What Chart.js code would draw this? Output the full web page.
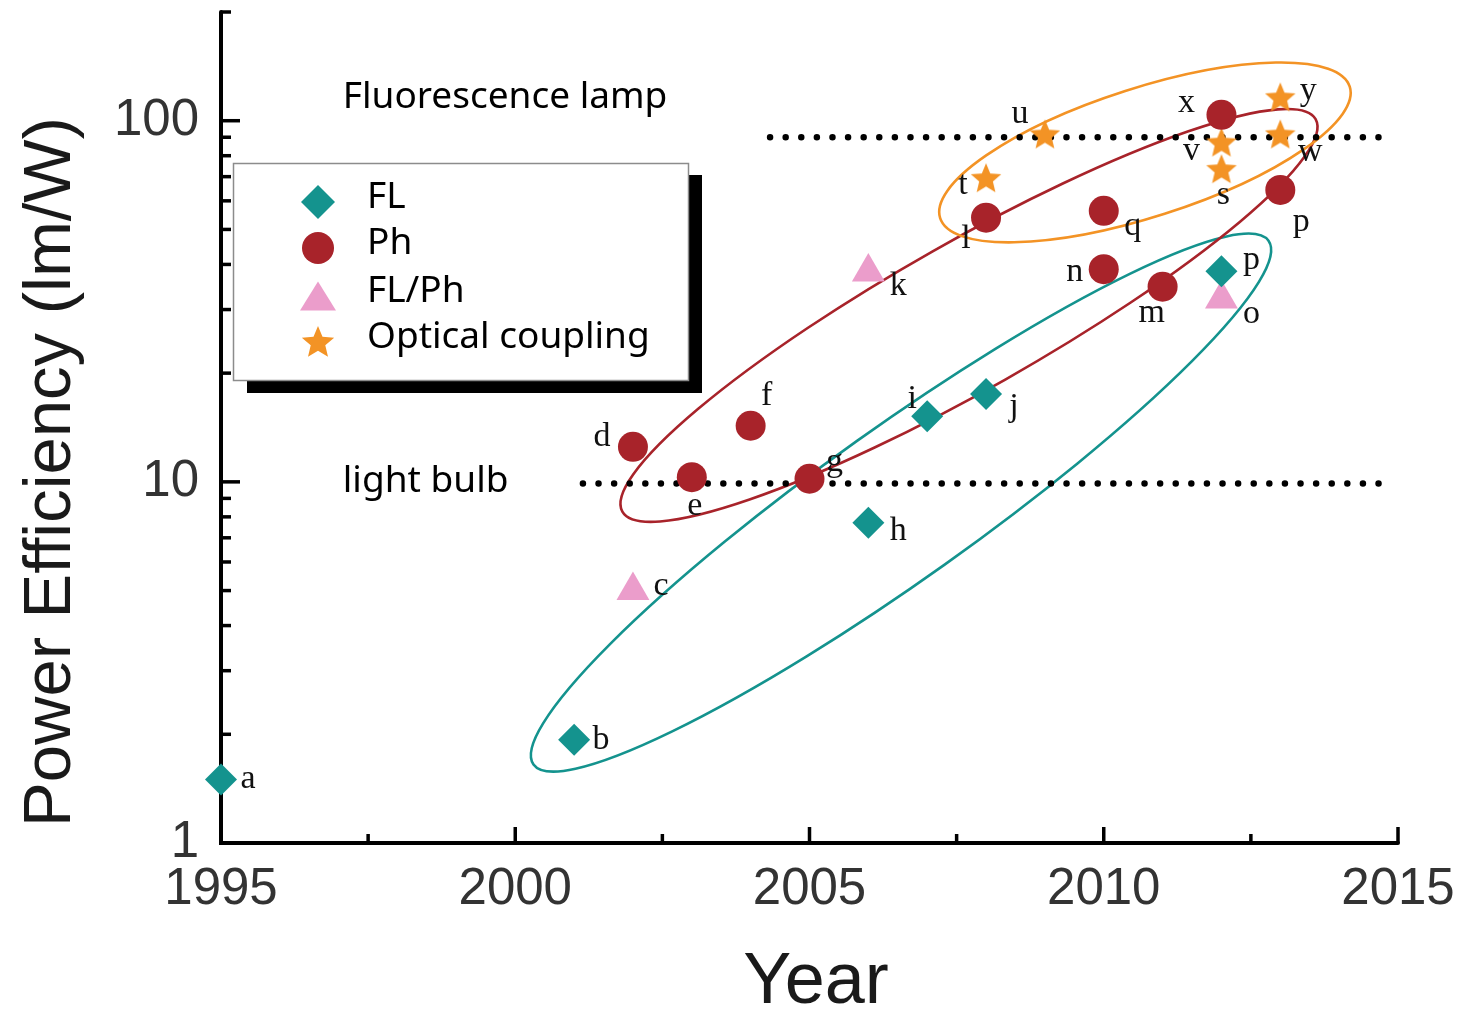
<!DOCTYPE html>
<html>
<head>
<meta charset="utf-8">
<title>Power efficiency by year</title>
<script src="https://cdn.jsdelivr.net/npm/chart.js"></script>
<style>
  html, body { margin: 0; padding: 0; background: #fff; }
  #wrap { width: 1463px; height: 1012px; }
</style>
</head>
<body>
<div id="wrap"><canvas id="effChart" width="1463" height="1012"></canvas></div>
<script>
// values
const flYears = [1995, 2001, 2006, 2007, 2008, 2012];
const flValues = [1.5, 1.93, 7.7, 15.2, 17.5, 38.3];
const flTags = ['a', 'b', 'h', 'i', 'j', 'p'];

const phYears = [2002, 2003, 2004, 2005, 2008, 2010, 2010, 2011, 2012, 2013];
const phValues = [12.5, 10.3, 14.3, 10.2, 53.9, 56.3, 38.8, 34.7, 103.8, 64.3];
const phTags = ['d', 'e', 'f', 'g', 'l', 'q', 'n', 'm', 'x', 'p'];

const mixYears = [2002, 2006, 2012];
const mixValues = [5.0, 38.1, 32.1];
const mixTags = ['c', 'k', 'o'];

const ocYears = [2008, 2009, 2012, 2012, 2013, 2013];
const ocValues = [69.3, 91.6, 87, 73.4, 116, 91.6];
const ocTags = ['t', 'u', 'v', 's', 'y', 'w'];

const xTicks = [1995, 2000, 2005, 2010, 2015];
const yTicks = [1, 10, 100];

// reference levels (dotted lines)
const lampLevel = 90;
const bulbLevel = 9.9;

// where each letter sits next to its marker (px)
const flTagOffsets = [[27, 0], [27, 0], [30, 8], [-15, -17], [28, 13], [30, -11]];
const phTagOffsets = [[-31, -10], [3, 29], [16, -30], [25, -17], [-20, 21], [29, 15], [-29, 3], [-11, 26], [-35, -12], [21, 32]];
const mixTagOffsets = [[28, -4], [30, 14], [30, 15]];
const ocTagOffsets = [[-23, 7], [-25, -20], [-30, 9], [2, 26], [28, -6], [30, 18]];

const TEAL = '#14938e';
const RED = '#a8232a';
const PINK = '#eb9dcb';
const ORANGE = '#f39325';

// group ellipses: centre and tip of the long axis in data units, short/long ratio
const groupRings = [
    { cx: 2006.555, cy: 8.76, tx: 2012.80, ty: 46.5, ratio: 0.168, color: TEAL },
    { cx: 2007.71, cy: 28.9, tx: 2013.6, ty: 101, ratio: 0.185, color: RED },
    { cx: 2010.70, cy: 81.7, tx: 2014.18, ty: 124.2, ratio: 0.30, color: ORANGE }
];

function pts(xs, ys) {
    return xs.map((x, i) => ({ x: x, y: ys[i] }));
}

function starPath(g, x, y, r) {
    g.beginPath();
    for (let i = 0; i < 10; i++) {
        const rr = i % 2 ? r * 0.45 : r;
        const a = -Math.PI / 2 + i * Math.PI / 5;
        g.lineTo(x + rr * Math.cos(a), y + rr * Math.sin(a));
    }
    g.closePath();
}

function makeStar(r, color) {
    const c = document.createElement('canvas');
    const s = Math.ceil(r * 2 + 2);
    c.width = s;
    c.height = s;
    const g = c.getContext('2d');
    g.fillStyle = color;
    starPath(g, s / 2, s / 2 + 1, r);
    g.fill();
    return c;
}

function drawMarker(g, kind, x, y, r, color) {
    g.fillStyle = color;
    g.beginPath();
    if (kind === 'diamond') {
        g.moveTo(x, y - r); g.lineTo(x + r, y); g.lineTo(x, y + r); g.lineTo(x - r, y);
        g.closePath();
    } else if (kind === 'circle') {
        g.arc(x, y, r, 0, Math.PI * 2);
    } else if (kind === 'triangle') {
        g.moveTo(x, y - r * 0.8); g.lineTo(x + r, y + r * 0.8); g.lineTo(x - r, y + r * 0.8);
        g.closePath();
    } else {
        starPath(g, x, y + 1, r);
    }
    g.fill();
}

const ringPlugin = {
    id: 'rings',
    beforeDatasetsDraw(chart) {
        const { ctx, scales: { x, y } } = chart;
        ctx.save();
        ctx.lineWidth = 2.6;
        groupRings.forEach(e => {
            const cx = x.getPixelForValue(e.cx), cy = y.getPixelForValue(e.cy);
            const tx = x.getPixelForValue(e.tx), ty = y.getPixelForValue(e.ty);
            const a = Math.hypot(tx - cx, ty - cy);
            ctx.strokeStyle = e.color;
            ctx.beginPath();
            ctx.ellipse(cx, cy, a, a * e.ratio, Math.atan2(ty - cy, tx - cx), 0, Math.PI * 2);
            ctx.stroke();
        });
        ctx.restore();
    }
};

const axisPlugin = {
    id: 'frame',
    beforeDatasetsDraw(chart) {
        const { ctx, chartArea: area, scales: { x, y } } = chart;
        ctx.save();
        ctx.strokeStyle = '#000';
        ctx.lineWidth = 4;
        ctx.lineCap = 'round';
        ctx.beginPath();
        ctx.moveTo(area.left, area.top);
        ctx.lineTo(area.left, area.bottom);
        ctx.lineTo(area.right, area.bottom);
        ctx.stroke();

        ctx.lineWidth = 3.5;
        ctx.lineCap = 'butt';
        // y ticks, pointing inward
        for (let dec = 1; dec <= 100; dec *= 10) {
            for (let k = 1; k <= 9; k++) {
                const v = dec * k;
                if (v <= 1 || v > 200) continue;
                const py = y.getPixelForValue(v);
                const len = k === 1 ? 19 : 10;
                ctx.beginPath();
                ctx.moveTo(area.left, py);
                ctx.lineTo(area.left + len, py);
                ctx.stroke();
            }
        }
        // x ticks
        for (let yr = 1997.5; yr <= 2015; yr += 2.5) {
            const px = x.getPixelForValue(yr);
            const len = yr % 5 === 0 ? 16 : 9;
            ctx.beginPath();
            ctx.moveTo(px, area.bottom);
            ctx.lineTo(px, area.bottom - len);
            ctx.stroke();
        }
        ctx.restore();
    }
};

const tagPlugin = {
    id: 'tags',
    afterDatasetsDraw(chart) {
        const { ctx, scales: { x, y } } = chart;
        const groups = [
            [flYears, flValues, flTags, flTagOffsets],
            [phYears, phValues, phTags, phTagOffsets],
            [mixYears, mixValues, mixTags, mixTagOffsets],
            [ocYears, ocValues, ocTags, ocTagOffsets]
        ];
        ctx.save();
        ctx.fillStyle = '#111';
        ctx.font = '34px "Liberation Serif"';
        ctx.textAlign = 'center';
        ctx.textBaseline = 'middle';
        groups.forEach(([xs, ys, tags, offs]) => {
            tags.forEach((t, i) => {
                ctx.fillText(t, x.getPixelForValue(xs[i]) + offs[i][0], y.getPixelForValue(ys[i]) + offs[i][1]);
            });
        });

        // names of the reference levels
        ctx.font = '37px "Noto Sans"';
        ctx.textAlign = 'left';
        ctx.fillStyle = '#000';
        ctx.fillText('Fluorescence lamp', x.getPixelForValue(1997.07), y.getPixelForValue(116));
        ctx.fillText('light bulb', x.getPixelForValue(1997.07), y.getPixelForValue(10.0));
        ctx.restore();
    }
};

const legendPlugin = {
    id: 'boxLegend',
    afterDraw(chart) {
        const ctx = chart.ctx;
        const items = chart.data.datasets.filter(d => d.marker);
        ctx.save();
        ctx.fillStyle = '#000';
        ctx.fillRect(247, 175, 455, 218);
        ctx.fillStyle = '#fff';
        ctx.fillRect(233, 163, 456, 218);
        ctx.strokeStyle = '#8c8c8c';
        ctx.lineWidth = 1.5;
        ctx.strokeRect(233.5, 163.5, 455, 217);

        const rows = [202, 248, 296, 342];
        const sizes = { diamond: 17, circle: 16, triangle: 18, star: 17 };
        ctx.font = '37px "Noto Sans"';
        ctx.textAlign = 'left';
        ctx.textBaseline = 'middle';
        items.forEach((d, i) => {
            drawMarker(ctx, d.marker, 318, rows[i], sizes[d.marker], d.markerColor);
            ctx.fillStyle = '#000';
            ctx.fillText(d.label, 367, rows[i] - 5);
        });

        // axis titles
        ctx.fillStyle = '#1a1a1a';
        ctx.textBaseline = 'alphabetic';
        ctx.textAlign = 'center';
        ctx.font = '72px "Liberation Sans"';
        ctx.fillText('Year', 816, 1003);
        ctx.translate(70, 472);
        ctx.rotate(-Math.PI / 2);
        ctx.font = '67px "Liberation Sans"';
        ctx.fillText('Power Efficiency (lm/W)', 0, 0);
        ctx.restore();
    }
};

const tickFont = { family: 'Liberation Sans', size: 51 };

new Chart(document.getElementById('effChart'), {
    type: 'scatter',
    data: {
        datasets: [
            {
                label: 'FL', marker: 'diamond', markerColor: TEAL,
                data: pts(flYears, flValues),
                pointStyle: 'rectRot', pointRadius: 16, backgroundColor: TEAL, borderWidth: 0,
                clip: false, order: 0
            },
            {
                label: 'Ph', marker: 'circle', markerColor: RED,
                data: pts(phYears, phValues),
                pointStyle: 'circle', pointRadius: 15, backgroundColor: RED, borderWidth: 0,
                clip: false, order: 0
            },
            {
                label: 'FL/Ph', marker: 'triangle', markerColor: PINK,
                data: pts(mixYears, mixValues),
                pointStyle: 'triangle', pointRadius: 19, backgroundColor: PINK, borderWidth: 0,
                clip: false, order: 0
            },
            {
                label: 'Optical coupling', marker: 'star', markerColor: ORANGE,
                data: pts(ocYears, ocValues),
                pointStyle: makeStar(16, ORANGE), pointRadius: 16, borderWidth: 0,
                clip: false, order: 0
            },
            {
                type: 'line',
                data: [{ x: 2004.33, y: lampLevel }, { x: 2014.9, y: lampLevel }],
                borderColor: '#000', borderWidth: 6.5, borderDash: [0, 15.6], borderCapStyle: 'round',
                pointRadius: 0, order: 2
            },
            {
                type: 'line',
                data: [{ x: 2001.15, y: bulbLevel }, { x: 2014.9, y: bulbLevel }],
                borderColor: '#000', borderWidth: 6.5, borderDash: [0, 15.6], borderCapStyle: 'round',
                pointRadius: 0, order: 2
            }
        ]
    },
    options: {
        responsive: false,
        animation: false,
        layout: { autoPadding: false, padding: { top: 12, right: 65, left: 0, bottom: 0 } },
        plugins: {
            legend: { display: false },
            tooltip: { enabled: false }
        },
        scales: {
            x: {
                type: 'linear',
                min: 1995,
                max: 2015,
                grid: { display: false, drawTicks: false },
                border: { display: false },
                afterBuildTicks: s => { s.ticks = xTicks.map(v => ({ value: v })); },
                afterFit: s => { s.height = 169; s.paddingLeft = 0; s.paddingRight = 0; },
                ticks: {
                    font: tickFont, color: '#333', padding: 16,
                    maxRotation: 0, autoSkip: false,
                    callback: v => String(v)
                }
            },
            y: {
                type: 'logarithmic',
                min: 1,
                max: 200,
                grid: { display: false, drawTicks: false },
                border: { display: false },
                afterBuildTicks: s => { s.ticks = yTicks.map(v => ({ value: v })); },
                afterFit: s => { s.width = 221; s.paddingTop = 0; s.paddingBottom = 0; },
                ticks: {
                    font: tickFont, color: '#333', padding: 22,
                    autoSkip: false,
                    callback: v => String(v)
                }
            }
        }
    },
    plugins: [ringPlugin, axisPlugin, tagPlugin, legendPlugin]
});
</script>
</body>
</html>
